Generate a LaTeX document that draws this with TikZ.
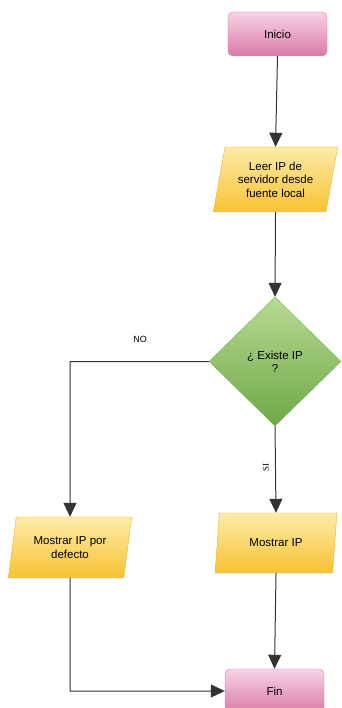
\documentclass[tikz,border=0pt]{standalone}
\usepackage{fontspec}
\setmainfont{Liberation Sans}
\newfontfamily\labelserif{Liberation Serif}
\usetikzlibrary{shapes.geometric,arrows.meta}
\definecolor{pinkTop}{HTML}{F6D3E6}
\definecolor{pinkBot}{HTML}{D97AA6}
\definecolor{pinkLine}{HTML}{D77AA3}
\definecolor{yelTop}{HTML}{FDEBAA}
\definecolor{yelBot}{HTML}{F8C232}
\definecolor{yelLine}{HTML}{E9B43A}
\definecolor{grnTop}{HTML}{B8DA93}
\definecolor{grnBot}{HTML}{6EA846}
\definecolor{grnLine}{HTML}{7DAE5A}
\definecolor{lineCol}{HTML}{333333}
\tikzset{
  x=1pt, y=-1pt,
  term/.style={rectangle, rounded corners=5pt, draw=pinkLine, top color=pinkTop, bottom color=pinkBot,
    minimum width=99pt, minimum height=44pt, inner sep=0pt, font=\fontsize{11.5}{13}\selectfont},
  iobox/.style={trapezium, trapezium left angle=76, trapezium right angle=104, trapezium stretches=true,
    draw=yelLine, top color=yelTop, bottom color=yelBot, inner sep=0pt, align=center,
    font=\fontsize{11.5}{13.5}\selectfont},
  decis/.style={diamond, draw=grnLine, top color=grnTop, bottom color=grnBot, inner sep=0pt,
    minimum width=132pt, minimum height=129pt, align=center, font=\fontsize{11.5}{13}\selectfont},
  conn/.style={draw=lineCol, line width=1pt, -{Triangle[width=13pt,length=14pt]}},
  lbl/.style={font=\fontsize{9}{11}\selectfont}
}
\begin{document}
\begin{tikzpicture}
\clip (0,0) rectangle (341,708);
\useasboundingbox (0,0) rectangle (341,708);
\node[term] (inicio) at (277.5,34) {Inicio};
\node[iobox, minimum width=125pt, minimum height=65pt] (leer) at (275.5,179.5) {Leer IP de\\servidor desde\\fuente local};
\node[decis] (existe) at (275,361.5) {¿ Existe IP\\?};
\node[iobox, minimum width=124pt, minimum height=61pt] (defecto) at (70,547.5) {Mostrar IP por\\defecto};
\node[iobox, minimum width=122pt, minimum height=60pt] (mostrar) at (276,543) {Mostrar IP};
\node[term] (fin) at (274.5,691) {Fin};
\coordinate (corner1) at (70,361.5);
\coordinate (corner2) at (70,691);
\draw[conn] (inicio.south) -- (leer.north);
\draw[conn] (leer.south) -- (existe.north);
\draw[conn] (existe.west) -- (corner1) -- (defecto.north);
\draw[conn] (existe.south) -- (mostrar.north);
\draw[conn] (mostrar.south) -- (fin.north);
\draw[conn] (defecto.south) -- (corner2) -- (fin.west);
\node[lbl] (no) at (140,339) {NO};
\node[font=\labelserif\fontsize{9}{11}\selectfont, rotate=90] (si) at (266,467) {SI};
\end{tikzpicture}
\end{document}
